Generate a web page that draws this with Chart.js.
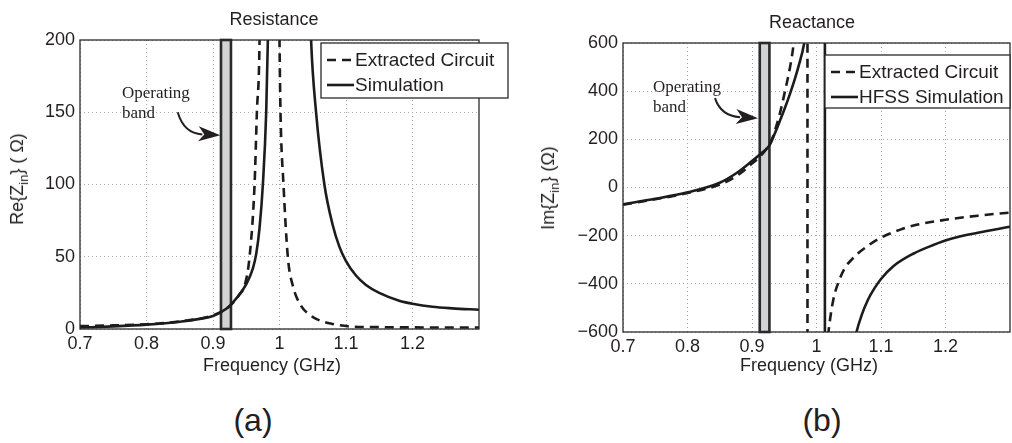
<!DOCTYPE html>
<html>
<head>
<meta charset="utf-8">
<script src="https://cdn.jsdelivr.net/npm/chart.js@4.4.1/dist/chart.umd.min.js"></script>
<style>
  body { margin: 0; background: #fff; width: 1012px; height: 443px; position: relative; overflow: hidden;
         font-family: 'Liberation Sans', Arial, sans-serif; color: #231f20; }
  .panel { position: absolute; top: 0; height: 370px; }
  .lbl { position: absolute; white-space: nowrap; transform: translate(-50%, -50%); font-size: 18px; }
  .ylbl { transform: translate(-50%, -50%) rotate(-90deg); }
  .cap { font-size: 32px; }
  sub { font-size: 13px; vertical-align: -5px; }
</style>
</head>
<body>
<div class="panel" style="left:0; width:512px;"><canvas id="resChart"></canvas></div>
<div class="panel" style="left:520px; width:492px;"><canvas id="reacChart"></canvas></div>

<div class="lbl" style="left:274px; top:19px;">Resistance</div>
<div class="lbl" style="left:812px; top:22px;">Reactance</div>
<div class="lbl ylbl" style="left:19px; top:179px;">Re{Z<sub>in</sub>} ( &Omega;)</div>
<div class="lbl ylbl" style="left:550px; top:188px;">Im{Z<sub>in</sub>} (&Omega;)</div>
<div class="lbl" style="left:272px; top:365px;">Frequency (GHz)</div>
<div class="lbl" style="left:809px; top:365px;">Frequency (GHz)</div>
<div class="lbl cap" style="left:253px; top:420px;">(a)</div>
<div class="lbl cap" style="left:822px; top:420px;">(b)</div>

<script>
// axis ticks
const xTicks = [0.7, 0.8, 0.9, 1.0, 1.1, 1.2];
const reTicks = [0, 50, 100, 150, 200];
const imTicks = [-600, -400, -200, 0, 200, 400, 600];

// operating band (GHz)
const band = [0.912, 0.927];

// Re{Zin}, extracted circuit
const reCircuitF = [0.70, 0.75, 0.80, 0.85, 0.90, 0.92, 0.93, 0.94, 0.9475, 0.955, 0.9625, 0.966, 0.970, 0.978,
                    0.985, 0.992, 0.998, 1.000, 1.0015, 1.006, 1.0125, 1.020, 1.0325, 1.045, 1.055, 1.08, 1.105,
                    1.15, 1.20, 1.30];
const reCircuit = [2.0, 2.5, 3.3, 5.2, 9.5, 14, 18, 24, 30, 50, 100, 150, 200, 600,
                   2000, 800, 300, 200, 150, 100, 50, 30, 16, 10, 7, 3.5, 1.8,
                   1.3, 1.1, 1.0];

// Re{Zin}, simulation
const reSimF = [0.70, 0.75, 0.80, 0.85, 0.88, 0.90, 0.92, 0.93, 0.94, 0.95, 0.96, 0.965, 0.97, 0.975, 0.98,
                0.9825, 0.99, 1.00, 1.016, 1.03, 1.04, 1.0475, 1.055, 1.0675, 1.08, 1.09, 1.10, 1.115, 1.13,
                1.15, 1.18, 1.20, 1.23, 1.26, 1.30];
const reSim = [1.0, 1.8, 3.0, 5.0, 7.0, 9.0, 14, 18.5, 24, 31, 42, 52, 70, 100, 150,
               200, 420, 900, 1500, 700, 320, 200, 150, 100, 72, 57, 47, 37, 30.5,
               25, 19.6, 17.5, 15.4, 14.3, 13.3];

// Im{Zin}, extracted circuit
const imCircuitF = [0.70, 0.75, 0.80, 0.85, 0.88, 0.90, 0.91, 0.92, 0.927, 0.933, 0.938, 0.943, 0.951, 0.959,
                    0.964, 0.975, 0.986, 0.986, 1.0, 1.0188, 1.026, 1.036, 1.045, 1.055, 1.065, 1.078, 1.10,
                    1.13, 1.155, 1.20, 1.25, 1.30];
const imCircuit = [-72, -49, -23, 12, 55, 100, 122, 152, 178, 215, 258, 305, 398, 500,
                   585, 900, 2500, -2500, -1100, -594, -467, -380, -330, -298, -272, -245, -208,
                   -175, -155, -134, -117, -104];

// Im{Zin}, HFSS simulation
const imSimF = [0.70, 0.75, 0.80, 0.85, 0.875, 0.90, 0.915, 0.927, 0.935, 0.943, 0.951, 0.959, 0.966, 0.972,
                0.981, 0.99, 1.0, 1.013, 1.013, 1.03, 1.05, 1.062, 1.07, 1.08, 1.09, 1.10, 1.12, 1.15,
                1.18, 1.21, 1.25, 1.30];
const imSim = [-70, -47, -20, 20, 58, 110, 143, 175, 222, 275, 330, 390, 447, 502,
               600, 780, 1100, 2500, -2500, -1200, -760, -600, -530, -465, -418, -380, -325, -275,
               -240, -212, -188, -163];

const pts = (fs, vs) => fs.map((f, i) => ({ x: f, y: vs[i] }));
const minus = v => v < 0 ? '\u2212' + Math.abs(v) : String(v);

Chart.defaults.font.family = "'Liberation Sans', Arial, sans-serif";
Chart.defaults.font.size = 18;
Chart.defaults.color = '#231f20';

// band, frame, legend box and the "Operating band" note
const decor = {
  id: 'decor',
  beforeDatasetsDraw(chart, args, o) {
    const { ctx, chartArea: a, scales: { x } } = chart;
    const x0 = x.getPixelForValue(o.band[0]);
    const x1 = x.getPixelForValue(o.band[1]);
    ctx.save();
    ctx.fillStyle = '#d2d3d5';
    ctx.fillRect(x0, a.top, x1 - x0, a.bottom - a.top);
    ctx.strokeStyle = '#2a2a2a';
    ctx.lineWidth = 2.6;
    ctx.strokeRect(x0, a.top, x1 - x0, a.bottom - a.top);
    ctx.restore();
  },
  afterDatasetsDraw(chart, args, o) {
    const { ctx, chartArea: a, scales: { x, y } } = chart;
    ctx.save();
    ctx.strokeStyle = '#2a2a2a';
    ctx.lineWidth = 1.3;
    ctx.strokeRect(a.left, a.top, a.right - a.left, a.bottom - a.top);

    // legend
    const L = o.legend;
    const bx = a.right + L.dx, by = a.top + L.dy;
    ctx.fillStyle = '#fff';
    ctx.fillRect(bx, by, L.w, L.h);
    ctx.strokeRect(bx, by, L.w, L.h);
    ctx.font = "19px 'Liberation Sans', Arial, sans-serif";
    ctx.textBaseline = 'middle';
    chart.data.datasets.forEach((ds, i) => {
      const ly = by + 17 + i * 25;
      ctx.beginPath();
      ctx.setLineDash(ds.borderDash || []);
      ctx.lineWidth = ds.borderWidth;
      ctx.strokeStyle = ds.borderColor;
      ctx.moveTo(bx + 6, ly);
      ctx.lineTo(bx + 33, ly);
      ctx.stroke();
      ctx.setLineDash([]);
      ctx.fillStyle = '#231f20';
      ctx.fillText(ds.label, bx + 34, ly + 1);
    });

    // note with curved arrow
    const n = o.note;
    const tx = x.getPixelForValue(n.at[0]), ty = y.getPixelForValue(n.at[1]);
    ctx.font = "17px 'Liberation Serif', 'Times New Roman', serif";
    ctx.fillStyle = '#231f20';
    ctx.fillText('Operating', tx, ty);
    ctx.fillText('band', tx, ty + 20);
    const sx = x.getPixelForValue(n.from[0]), sy = y.getPixelForValue(n.from[1]);
    const ex = x.getPixelForValue(n.to[0]), ey = y.getPixelForValue(n.to[1]);
    const cx = sx + 6, cy = ey - 2;
    const ang = Math.atan2(ey - cy, ex - cx);
    const hx = ex - 18 * Math.cos(ang), hy = ey - 18 * Math.sin(ang);
    ctx.strokeStyle = '#231f20';
    ctx.lineWidth = 2;
    ctx.beginPath();
    ctx.moveTo(sx, sy);
    ctx.quadraticCurveTo(cx, cy, hx, hy);
    ctx.stroke();
    const rot = (dx, dy) => [ex + dx * Math.cos(ang) - dy * Math.sin(ang), ey + dx * Math.sin(ang) + dy * Math.cos(ang)];
    ctx.beginPath();
    ctx.moveTo(ex, ey);
    ctx.lineTo(...rot(-22, -8));
    ctx.lineTo(...rot(-16, 0));
    ctx.lineTo(...rot(-22, 7));
    ctx.closePath();
    ctx.fill();
    ctx.restore();
  }
};

function makeChart(id, cfg) {
  return new Chart(document.getElementById(id), {
    type: 'line',
    data: {
      datasets: [
        { label: 'Extracted Circuit', data: cfg.circuit, borderColor: '#1c1c1c', borderWidth: 2.6,
          borderDash: [9, 6], pointRadius: 0, cubicInterpolationMode: 'monotone' },
        { label: cfg.simLabel, data: cfg.sim, borderColor: '#1c1c1c', borderWidth: 2.6,
          pointRadius: 0, cubicInterpolationMode: 'monotone' }
      ]
    },
    options: {
      responsive: true,
      maintainAspectRatio: false,
      animation: false,
      layout: { padding: cfg.padding },
      plugins: {
        legend: { display: false },
        tooltip: { enabled: false },
        decor: { band: band, legend: cfg.legend, note: cfg.note }
      },
      scales: {
        x: {
          type: 'linear', min: 0.7, max: 1.3,
          afterBuildTicks: s => { s.ticks = xTicks.map(v => ({ value: v })); },
          afterFit: s => { s.height = cfg.xHeight; },
          ticks: { padding: 4, callback: v => String(v) },
          grid: { color: '#a8a8a8', lineWidth: 1, drawTicks: false },
          border: { display: false, dash: [1, 3] }
        },
        y: {
          min: cfg.yTicks[0], max: cfg.yTicks[cfg.yTicks.length - 1],
          afterBuildTicks: s => { s.ticks = cfg.yTicks.map(v => ({ value: v })); },
          afterFit: s => { s.width = cfg.yWidth; },
          ticks: { padding: 5, callback: minus },
          grid: { color: '#a8a8a8', lineWidth: 1, drawTicks: false },
          border: { display: false, dash: [1, 3] }
        }
      }
    },
    plugins: [decor]
  });
}

makeChart('resChart', {
  circuit: pts(reCircuitF, reCircuit),
  sim: pts(reSimF, reSim),
  simLabel: 'Simulation',
  yTicks: reTicks,
  padding: { top: 40, right: 33, left: 0, bottom: 0 },
  yWidth: 80, xHeight: 41,
  legend: { dx: -158, dy: 3, w: 187, h: 55 },
  note: { at: [0.763, 163], from: [0.847, 150], to: [0.911, 134] }
});

makeChart('reacChart', {
  circuit: pts(imCircuitF, imCircuit),
  sim: pts(imSimF, imSim),
  simLabel: 'HFSS Simulation',
  yTicks: imTicks,
  padding: { top: 43, right: 2, left: 0, bottom: 0 },
  yWidth: 103, xHeight: 38,
  legend: { dx: -185, dy: 12, w: 185, h: 53 },
  note: { at: [0.7465, 416], from: [0.8426, 371], to: [0.9093, 288] }
});
</script>
</body>
</html>
